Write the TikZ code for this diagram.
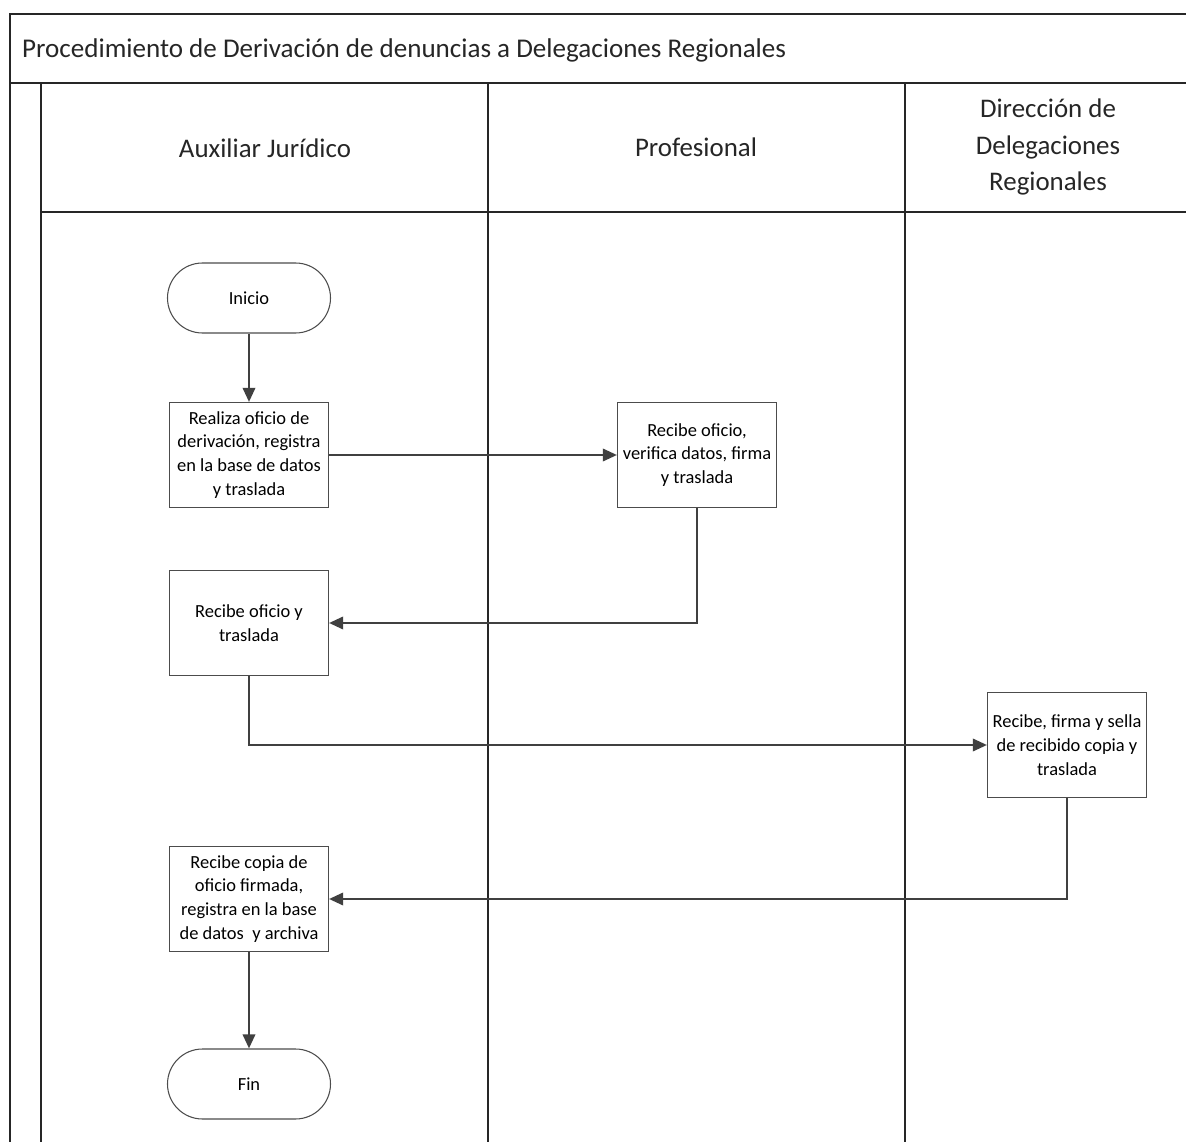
\documentclass[tikz,border=0pt]{standalone}
\usepackage{fontspec}
\setmainfont{Carlito}
\usetikzlibrary{arrows.meta}

\begin{document}
\begin{tikzpicture}[x=0.2mm,y=-0.2mm,
   marco/.style={black!85,line width=0.8pt},
   carril/.style={font=\fontsize{15.3}{20.5}\selectfont,align=center,text=black!85},
   terminal/.style={draw=black!70,line width=0.6pt,rounded corners=0.7cm,minimum width=3.26cm,minimum height=1.4cm,font=\fontsize{10.5}{13.6}\selectfont},
   proceso/.style={draw=black!70,line width=0.6pt,minimum width=3.18cm,minimum height=2.1cm,align=center,inner sep=2pt,font=\fontsize{10.5}{13.6}\selectfont},
   flecha/.style={black!75,-{Triangle[length=8pt,width=7pt]},line width=1.4pt}]
   \useasboundingbox (0,0) rectangle (1186,1142);
   % marco y carriles
   \draw[marco] (1186,14) -- (10,14) -- (10,1142);
   \draw[marco] (10,83) -- (1186,83);
   \draw[marco] (41,83) -- (41,1142);
   \draw[marco] (41,212) -- (1186,212);
   \draw[marco] (488,83) -- (488,1142);
   \draw[marco] (905,83) -- (905,1142);
   \node[anchor=west,font=\fontsize{15.4}{18}\selectfont,text=black!85] (titulo) at (16,50) {Procedimiento de Derivación de denuncias a Delegaciones Regionales};
   \node[carril] (auxiliar) at (265,148) {Auxiliar Jurídico};
   \node[carril] (profesional) at (696,147) {Profesional};
   \node[carril] (direccion) at (1048,147) {Dirección de\\Delegaciones\\Regionales};
   % pasos
   \node[terminal] (inicio) at (249,298) {Inicio};
   \node[proceso] (realiza) at (249,455) {Realiza oficio de\\derivación, registra\\en la base de datos\\y traslada};
   \node[proceso] (verifica) at (697,455) {Recibe oficio,\\verifica datos, firma\\y traslada};
   \node[proceso] (recibe) at (249,623) {Recibe oficio y\\traslada};
   \node[proceso] (sella) at (1067,745) {Recibe, firma y sella\\de recibido copia y\\traslada};
   \node[proceso] (archiva) at (249,899) {Recibe copia de\\oficio firmada,\\registra en la base\\de datos\ \ y archiva};
   \node[terminal] (fin) at (249,1084) {Fin};
   % flujo
   \draw[flecha] (inicio) -- (realiza);
   \draw[flecha] (realiza) -- (verifica);
   \draw[flecha] (verifica.south) |- (recibe.east);
   \draw[flecha] (recibe.south) |- (sella.west);
   \draw[flecha] (sella.south) |- (archiva.east);
   \draw[flecha] (archiva) -- (fin);
\end{tikzpicture}
\end{document}
